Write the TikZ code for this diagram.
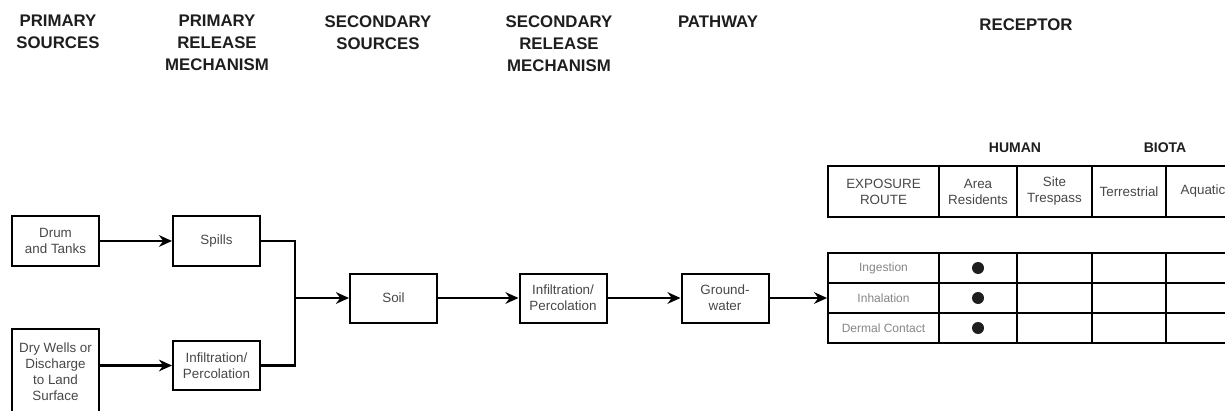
\documentclass[tikz,border=0pt]{standalone}
\usepackage{fontspec}
\setmainfont{Liberation Sans}
\usepackage{xcolor}
\usepackage{tikz}
\usetikzlibrary{arrows.meta}
\definecolor{ChartInk}{HTML}{1E1E1E}
\definecolor{BoxText}{HTML}{474747}
\definecolor{RouteText}{HTML}{858585}
\newcommand{\HeadFont}{\fontsize{8.4}{11}\selectfont\bfseries}
\newcommand{\GroupFont}{\fontsize{7.0}{8}\selectfont\bfseries}
\newcommand{\BoxFont}{\fontsize{6.7}{8}\selectfont}
\newcommand{\RouteFont}{\fontsize{6.0}{7}\selectfont}
\tikzset{
  column head/.style={anchor=north,align=center,inner sep=0pt,text=ChartInk,font=\HeadFont},
  group head/.style={inner sep=0pt,text=ChartInk,font=\GroupFont},
  stage box/.style={draw=black,line width=1pt,minimum width=43.5pt,minimum height=24.5pt,
    inner sep=1pt,align=center,text=BoxText,font=\BoxFont},
  grid cell/.style={draw=black,line width=0.9pt,inner sep=0pt,align=center,
    minimum height=15pt,text=BoxText,font=\BoxFont},
  route cell/.style={grid cell,text=RouteText,font=\RouteFont},
  feed line/.style={draw=black,line width=1.2pt},
  flow/.style={feed line,-{Stealth[length=6.5pt,width=5.8pt]}}
}
\begin{document}
\begin{tikzpicture}[x=0.5pt,y=-0.5pt]
  % one unit = one pixel of the 1225 x 411 sheet, y counts downwards
  \clip (0,0) rectangle (1225,411);

  % column headings
  \node[column head] (hPrimSrc) at (58,15) {PRIMARY\\SOURCES};
  \node[column head] (hPrimRel) at (217,15) {PRIMARY\\RELEASE\\MECHANISM};
  \node[column head] (hSecSrc) at (378,15) {SECONDARY\\SOURCES};
  \node[column head] (hSecRel) at (559,15) {SECONDARY\\RELEASE\\MECHANISM};
  \node[column head] (hPath) at (718,16) {PATHWAY};
  \node[column head] (hRecep) at (1026,18) {RECEPTOR};
  \node[group head] (hHuman) at (1015,148) {HUMAN};
  \node[group head] (hBiota) at (1165,148) {BIOTA};

  % sources and release mechanisms
  \node[stage box] (drum) at (55.5,241) {Drum\\and Tanks};
  \node[stage box] (spills) at (216.5,241) {Spills};
  \node[stage box,minimum height=43pt] (drywells) at (55.5,372) {Dry Wells or\\Discharge\\to Land\\Surface};
  \node[stage box] (infilA) at (216.5,365.5) {Infiltration/\\Percolation};
  \node[stage box] (soil) at (393.5,298) {Soil};
  \node[stage box] (infilB) at (563,298) {Infiltration/\\Percolation};
  \node[stage box] (gwater) at (725,298) {Ground-\\water};
  \coordinate (merge) at (295,298);

  % receptor table, header row
  \node[grid cell,minimum width=55.5pt,minimum height=25.5pt] (expo) at (883.5,191.5) {EXPOSURE\\ROUTE};
  \node[grid cell,minimum width=39pt,minimum height=25.5pt] (resid) at (978,191.5) {Area\\Residents};
  \node[grid cell,minimum width=37.5pt,minimum height=25.5pt] (tresp) at (1054.5,191.5) {Site\\Trespass};
  \node[grid cell,minimum width=37pt,minimum height=25.5pt] (terr) at (1129,191.5) {Terrestrial};
  \node[grid cell,minimum width=37pt,minimum height=25.5pt] (aqua) at (1203,191.5) {Aquatic};

  % receptor table, exposure routes
  \foreach \r/\y/\route in {1/268/Ingestion,2/298/Inhalation,3/328/Dermal Contact}{
    \node[route cell,minimum width=55.5pt] (route\r) at (883.5,\y) {\route};
    \node[grid cell,minimum width=39pt] (resid\r) at (978,\y) {};
    \node[grid cell,minimum width=37.5pt] (tresp\r) at (1054.5,\y) {};
    \node[grid cell,minimum width=37pt] (terr\r) at (1129,\y) {};
    \node[grid cell,minimum width=37pt] (aqua\r) at (1203,\y) {};
    \fill[ChartInk] (resid\r) circle[radius=3pt];
  }

  % connectors
  \draw[flow] (drum) -- (spills);
  \draw[flow] (drywells.east |- infilA) -- (infilA);
  \draw[feed line] (spills.east) -| (merge);
  \draw[feed line] (infilA.east) -| (merge);
  \draw[flow] (merge) -- (soil);
  \draw[flow] (soil) -- (infilB);
  \draw[flow] (infilB) -- (gwater);
  \draw[flow] (gwater) -- (route2.west);
\end{tikzpicture}
\end{document}
